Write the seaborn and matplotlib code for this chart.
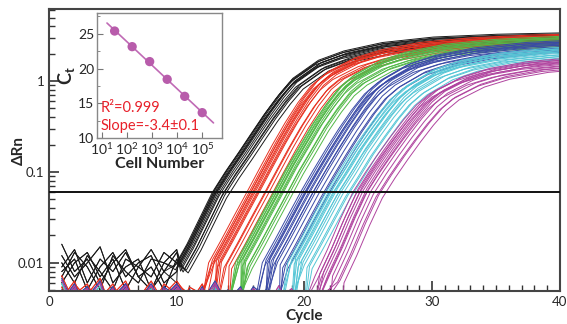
import numpy as np
import pandas as pd
import matplotlib
matplotlib.use("Agg")
import matplotlib.pyplot as plt
import matplotlib.ticker as mticker
import seaborn as sns

# --- data ---
groups = ["black", "red", "green", "blue", "cyan", "magenta"]
colors = ["#1a1a1a", "#e8301f", "#52b848", "#3a4aa6", "#55c6d6", "#b0449f"]

# threshold-crossing cycle of each curve, per group
ct_black = [12.8, 13.3, 13.0, 13.6, 13.1, 13.9, 13.2, 12.9, 13.35, 13.05, 13.5, 13.15, 13.75, 13.4]
ct_red = [15.5, 16.2, 15.8, 16.9, 16.0, 17.3, 16.1, 15.7, 16.4, 15.9, 16.7, 16.3, 17.1, 16.5]
ct_green = [17.6, 18.1, 17.8, 18.6, 18.0, 18.9, 18.05, 17.7, 18.3, 17.9, 18.5, 18.2, 18.75, 18.4]
ct_blue = [19.7, 20.5, 20.0, 21.1, 20.3, 21.7, 20.4, 19.9, 20.8, 20.1, 21.3, 20.6, 21.5, 20.9]
ct_cyan = [21.7, 22.5, 22.0, 23.0, 22.3, 23.6, 22.4, 21.9, 22.8, 22.2, 23.2, 22.6, 23.4, 22.9]
ct_magenta = [23.8, 24.7, 24.2, 25.4, 24.5, 26.1, 24.6, 24.0, 25.0, 24.3, 25.6, 24.9, 25.8, 25.2]

# spread of curve heights within a group (same for every group)
curve_scale = [1.0, 0.9, 1.08, 0.95, 1.13, 0.86, 1.04, 0.93, 1.07, 0.97, 0.88, 1.1, 0.92, 1.02]

# typical amplification curve of each group, cycles counted from the threshold crossing
offsets = [-3, -2, -1, 0, 1, 2, 3, 4, 5, 6, 8, 10, 13, 17, 22, 27]
prof_black = [0.009, 0.016, 0.031, 0.06, 0.1, 0.16, 0.26, 0.42, 0.65, 0.95, 1.5, 1.9, 2.35, 2.7, 2.9, 3.0]
prof_red = [0.01, 0.018, 0.033, 0.06, 0.11, 0.2, 0.35, 0.58, 0.88, 1.15, 1.6, 1.95, 2.35, 2.65, 2.85, 2.95]
prof_green = [0.01, 0.018, 0.033, 0.06, 0.11, 0.19, 0.33, 0.53, 0.8, 1.05, 1.5, 1.85, 2.25, 2.55, 2.75, 2.85]
prof_blue = [0.01, 0.018, 0.033, 0.06, 0.105, 0.18, 0.3, 0.48, 0.72, 0.95, 1.38, 1.7, 2.05, 2.35, 2.55, 2.65]
prof_cyan = [0.01, 0.018, 0.033, 0.06, 0.1, 0.17, 0.27, 0.42, 0.62, 0.82, 1.2, 1.5, 1.8, 2.05, 2.2, 2.3]
prof_magenta = [0.007, 0.014, 0.03, 0.06, 0.1, 0.16, 0.25, 0.38, 0.55, 0.72, 1.0, 1.22, 1.45, 1.62, 1.75, 1.8]

# baseline noise before amplification (x 0.001), cycles 1, 2, 3, ...
noise = [
    [9, 14, 6, 11, 8, 13, 7, 5, 10, 12, 6, 9, 15, 8, 11, 7, 10, 6, 12, 9, 8, 11, 7, 10],
    [12, 7, 10, 15, 6, 9, 11, 5, 8, 13, 10, 6, 9, 12, 7, 11, 8, 14, 6, 10, 9, 7, 12, 8],
    [6, 10, 13, 7, 11, 5, 9, 14, 8, 6, 12, 10, 7, 9, 13, 6, 11, 8, 10, 7, 12, 9, 6, 11],
    [16, 8, 11, 6, 10, 14, 7, 9, 5, 11, 8, 13, 6, 10, 9, 12, 7, 5, 11, 8, 10, 13, 9, 7],
    [8, 11, 5, 9, 13, 7, 10, 12, 6, 8, 11, 5, 14, 9, 7, 10, 12, 8, 6, 11, 9, 10, 8, 12],
    [10, 6, 12, 8, 5, 11, 9, 7, 13, 10, 6, 8, 11, 5, 12, 9, 6, 10, 13, 8, 7, 11, 10, 9],
    [7, 13, 9, 5, 12, 8, 6, 11, 10, 14, 9, 7, 5, 11, 8, 13, 10, 6, 9, 12, 11, 8, 7, 10],
]
noise_level = [1.0, 0.45, 0.37, 0.42, 0.37, 0.4]

threshold = 0.06

# inset: standard curve
cells = [32, 160, 800, 4000, 20000, 100000]
ct_mean = [25.4, 23.15, 21.0, 18.45, 16.0, 13.65]

# --- build long table ---
cts = [ct_black, ct_red, ct_green, ct_blue, ct_cyan, ct_magenta]
profs = [prof_black, prof_red, prof_green, prof_blue, prof_cyan, prof_magenta]
rows = []
k = 0
for g, gct, prof, lvl in zip(groups, cts, profs, noise_level):
    for i, ct in enumerate(gct):
        pat = noise[k % len(noise)]
        k += 1
        start = ct + offsets[0]
        for c, v in zip(range(1, 40), pat):
            if c >= start:
                break
            rows.append((g, f"{g}{i}", c, v * 0.001 * lvl))
        for o, v in zip(offsets, prof):
            rows.append((g, f"{g}{i}", ct + o, v * curve_scale[i]))
df = pd.DataFrame(rows, columns=["group", "curve", "cycle", "drn"])

sns.set_style("ticks")
plt.rcParams["font.family"] = ["Lato", "DejaVu Sans"]
plt.rcParams["mathtext.fontset"] = "custom"
plt.rcParams["mathtext.rm"] = "Lato"
plt.rcParams["mathtext.bf"] = "Lato:bold"

fig = plt.figure(figsize=(5.67, 3.24), dpi=100)
ax = fig.add_axes([0.0864, 0.102, 0.901, 0.870])

sns.lineplot(data=df, x="cycle", y="drn", hue="group", units="curve", estimator=None,
             hue_order=groups, palette=dict(zip(groups, colors)), sort=False,
             lw=0.7, legend=False, ax=ax)
ax.axhline(threshold, color="#111111", lw=1.4, zorder=5)

ax.set_yscale("log")
ax.set_xlim(0, 40)
ax.set_ylim(0.0049, 6.2)
ax.xaxis.set_major_locator(mticker.MultipleLocator(10))
ax.xaxis.set_minor_locator(mticker.MultipleLocator(1))
ax.yaxis.set_major_locator(mticker.FixedLocator([0.01, 0.1, 1]))
ax.yaxis.set_major_formatter(mticker.FixedFormatter(["0.01", "0.1", "1"]))
ax.yaxis.set_minor_locator(mticker.LogLocator(base=10, subs=np.arange(2, 10)))
ax.yaxis.set_minor_formatter(mticker.NullFormatter())
ax.tick_params(which="both", direction="in", labelsize=9.5, color="#333333")
ax.tick_params(which="major", length=7, width=1.2)
ax.tick_params(which="minor", length=4, width=1.0)
for s in ax.spines.values():
    s.set_color("#444444")
    s.set_linewidth(1.5)
ax.set_xlabel("Cycle", fontsize=11, fontweight="bold", labelpad=1)
ax.set_ylabel("ΔRn", fontsize=11, fontweight="bold")
ax.yaxis.set_label_coords(-0.045, 0.5)

# inset
ins = fig.add_axes([0.171, 0.574, 0.221, 0.386])
ins.set_facecolor("white")
sns.scatterplot(x=cells, y=ct_mean, color="#b85cab", s=45, edgecolor="none", zorder=3, ax=ins)
slope, icpt = np.polyfit(np.log10(cells), ct_mean, 1)
fit_x = np.array([10 ** 1.2, 10 ** 5.45])
sns.lineplot(x=fit_x, y=icpt + slope * np.log10(fit_x), color="#c06ab5", lw=1.2, ax=ins)
ins.set_xscale("log")
ins.set_xlim(10 ** 0.8, 10 ** 5.8)
ins.set_ylim(10, 28)
ins.xaxis.set_major_locator(mticker.FixedLocator([10, 100, 1000, 1e4, 1e5]))
ins.xaxis.set_major_formatter(mticker.LogFormatterMathtext())
ins.xaxis.set_minor_locator(mticker.LogLocator(base=10, subs=np.arange(2, 10)))
ins.xaxis.set_minor_formatter(mticker.NullFormatter())
ins.yaxis.set_major_locator(mticker.MultipleLocator(5))
ins.yaxis.set_minor_locator(mticker.MultipleLocator(2.5))
ins.tick_params(which="both", direction="in", labelsize=10, pad=2, color="#777777")
ins.tick_params(which="major", length=4)
ins.tick_params(which="minor", length=2)
for s in ins.spines.values():
    s.set_color("#888888")
    s.set_linewidth(1.0)
ins.set_xlabel("Cell Number", fontsize=11.5, fontweight="bold", labelpad=0)
ins.set_ylabel(r"$\mathbf{C_t}$", fontsize=13, labelpad=1)
ins.text(0.03, 0.24, "R²=0.999", color="#e8202a", fontsize=10.5, transform=ins.transAxes, va="center")
ins.text(0.03, 0.1, "Slope=-3.4±0.1", color="#e8202a", fontsize=10.5, transform=ins.transAxes, va="center")

fig.savefig("out.png", dpi=100)
